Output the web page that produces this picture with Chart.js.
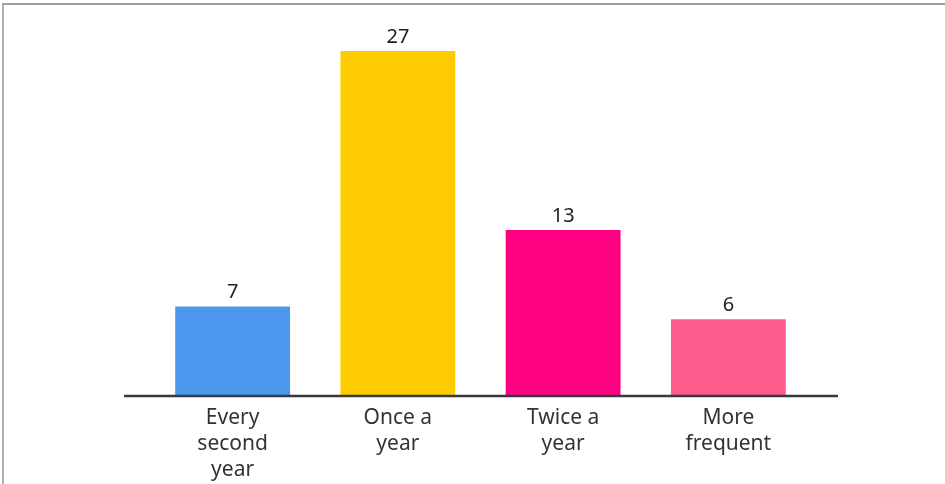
<!DOCTYPE html>
<html lang="en">
<head>
    <meta charset="UTF-8">
    <title>How often</title>
    <script src="https://cdn.jsdelivr.net/npm/chart.js"></script>
    <style>
        * { margin: 0; padding: 0; box-sizing: border-box; }
        body { background: #fff; width: 945px; height: 484px; overflow: hidden; }
        .frame {
            position: absolute; left: 2px; top: 3px; width: 943px; height: 481px;
            border-top: 2px solid #a0a0a0; border-left: 2px solid #b0b0b0;
        }
        .wrap { position: absolute; left: 0; top: 0; width: 945px; height: 484px; }
    </style>
</head>
<body>
    <div class="frame"></div>
    <div class="wrap"><canvas id="myChart"></canvas></div>

    <script>
        // data
        const categories = [["Every", "second", "year"], ["Once a", "year"], ["Twice a", "year"], ["More", "frequent"]];
        const counts = [7, 27, 13, 6];
        const barColors = ["#4e97ee", "#fecb00", "#fe0080", "#fe5c8d"];

        const font = "'Noto Sans', sans-serif";

        // value above each bar + extended baseline
        const extras = {
            id: "extras",
            afterDatasetsDraw(chart) {
                const ctx = chart.ctx;
                const area = chart.chartArea;
                ctx.save();
                ctx.strokeStyle = "#343a44";
                ctx.lineWidth = 2.5;
                ctx.beginPath();
                ctx.moveTo(area.left - 26, area.bottom);
                ctx.lineTo(area.right + 27, area.bottom);
                ctx.stroke();

                ctx.fillStyle = "#222";
                ctx.font = "20px " + font;
                ctx.textAlign = "center";
                ctx.textBaseline = "bottom";
                chart.getDatasetMeta(0).data.forEach((bar, i) => {
                    ctx.fillText(String(counts[i]), bar.x, bar.y - 4);
                });
                ctx.restore();
            }
        };

        new Chart(document.getElementById("myChart"), {
            type: "bar",
            data: {
                labels: categories,
                datasets: [{
                    data: counts,
                    backgroundColor: barColors,
                    borderWidth: 0,
                    barPercentage: 0.695,
                    categoryPercentage: 1
                }]
            },
            options: {
                responsive: true,
                maintainAspectRatio: false,
                animation: false,
                layout: { padding: { left: 150, right: 134, top: 51, bottom: 0 } },
                plugins: { legend: { display: false }, tooltip: { enabled: false } },
                scales: {
                    x: {
                        grid: { display: false },
                        border: { display: false },
                        ticks: {
                            color: "#333",
                            padding: 1,
                            font: { family: font, size: 21, lineHeight: 1.24 },
                            maxRotation: 0
                        },
                        afterFit(scale) { scale.height = 88; }
                    },
                    y: {
                        display: false,
                        min: 0,
                        max: 27
                    }
                }
            },
            plugins: [extras]
        });
    </script>
</body>
</html>
